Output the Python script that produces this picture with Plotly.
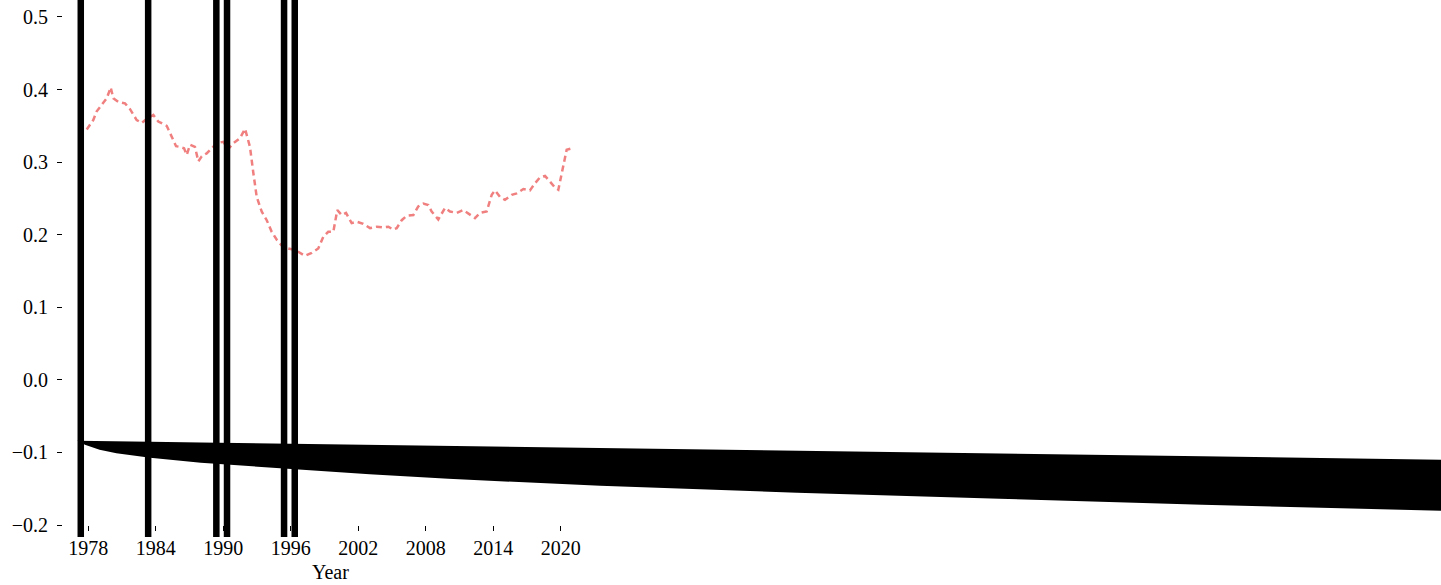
import plotly.graph_objects as go

# Dashed series (year, value)
years = [1977.86, 1978.44, 1978.75, 1979.19, 1979.64, 1979.99, 1980.22, 1980.67, 1981.26, 1981.71,
         1982.30, 1982.75, 1983.24, 1983.78, 1984.22, 1984.97, 1985.41, 1985.80, 1986.15, 1986.51,
         1986.75, 1987.04, 1987.48, 1987.78, 1988.08, 1988.52, 1988.97, 1989.41, 1990.00, 1990.44,
         1990.89, 1991.48, 1991.93, 1992.37, 1992.67, 1992.97, 1993.41, 1993.86, 1994.30, 1994.75,
         1995.19, 1995.78, 1996.37, 1996.82, 1997.26, 1997.86, 1998.44, 1998.89, 1999.33, 1999.78,
         2000.13, 2000.52, 2000.91, 2001.41, 2001.86, 2002.44, 2003.04, 2003.64, 2004.22, 2004.67,
         2005.11, 2005.41, 2005.86, 2006.30, 2006.89, 2007.33, 2007.78, 2008.22, 2008.52, 2009.11,
         2009.71, 2010.15, 2010.75, 2011.33, 2011.93, 2012.37, 2012.82, 2013.41, 2013.86, 2014.15,
         2014.60, 2015.04, 2015.64, 2016.08, 2016.67, 2017.26, 2017.71, 2018.15, 2018.60, 2019.04,
         2019.48, 2019.78, 2020.22, 2020.52, 2020.97]
values = [0.345, 0.358, 0.370, 0.379, 0.388, 0.403, 0.388, 0.383, 0.381, 0.373,
          0.358, 0.354, 0.360, 0.365, 0.356, 0.350, 0.335, 0.322, 0.321, 0.319,
          0.310, 0.324, 0.321, 0.301, 0.308, 0.312, 0.319, 0.326, 0.328, 0.318,
          0.326, 0.333, 0.346, 0.321, 0.285, 0.252, 0.232, 0.220, 0.204, 0.193,
          0.185, 0.181, 0.179, 0.175, 0.171, 0.175, 0.181, 0.197, 0.204, 0.204,
          0.234, 0.227, 0.230, 0.216, 0.218, 0.215, 0.209, 0.211, 0.210, 0.211,
          0.207, 0.209, 0.220, 0.226, 0.227, 0.239, 0.243, 0.241, 0.232, 0.221,
          0.237, 0.232, 0.230, 0.234, 0.227, 0.223, 0.230, 0.232, 0.255, 0.261,
          0.252, 0.248, 0.255, 0.257, 0.263, 0.261, 0.271, 0.279, 0.281, 0.273,
          0.265, 0.262, 0.294, 0.317, 0.319]

# Black wedge band
wedge_years = [1977.0, 1977.3, 1977.7, 1978.3, 1979.0, 1980.5, 1983.5, 1988.0, 1992.0, 1997.0,
               2003.0, 2010.0, 2023.5, 2041.0, 2059.0, 2077.0, 2099.0]
wedge_top = [-0.0840, -0.0841, -0.0842, -0.0843, -0.0844, -0.0847, -0.0854, -0.0863, -0.0872, -0.0883,
             -0.0896, -0.0911, -0.0940, -0.0978, -0.1016, -0.1054, -0.1101]
wedge_bottom = [-0.0840, -0.0858, -0.0893, -0.0927, -0.0962, -0.1010, -0.1074, -0.1143, -0.1185, -0.1240,
                -0.1300, -0.1364, -0.1460, -0.1556, -0.1639, -0.1722, -0.1806]

# Vertical black lines
vline_years = [1977.33, 1983.32, 1989.38, 1990.33, 1995.40, 1996.35]

x_ticks = [1978, 1984, 1990, 1996, 2002, 2008, 2014, 2020]
y_ticks = [-0.2, -0.1, 0.0, 0.1, 0.2, 0.3, 0.4, 0.5]

FONT = "Liberation Serif"

fig = go.Figure()

fig.add_trace(go.Scatter(
    x=wedge_years + wedge_years[::-1],
    y=wedge_top + wedge_bottom[::-1],
    fill="toself", fillcolor="black", mode="lines",
    line=dict(width=0, color="black"), hoverinfo="skip", showlegend=False,
))

fig.add_trace(go.Scatter(
    x=years, y=values, mode="lines",
    line=dict(color="#F08080", width=2.5, dash="6px,4px"),
    showlegend=False,
))

for xv in vline_years:
    fig.add_shape(type="line", xref="x", yref="paper", x0=xv, x1=xv, y0=-0.023, y1=1.05,
                  line=dict(color="black", width=6.5), layer="above")

fig.add_annotation(text="Year", xref="paper", yref="paper", x=(330 - 63) / 1378, y=-0.0895,
                   xanchor="center", yanchor="middle", showarrow=False,
                   font=dict(family=FONT, size=20, color="black"))

fig.update_layout(
    width=1441, height=585,
    margin=dict(l=63, r=0, t=0, b=60, autoexpand=False),
    paper_bgcolor="white", plot_bgcolor="white",
    font=dict(family=FONT, size=20, color="black"),
    xaxis=dict(range=[1975.75, 2098.24], tickmode="array", tickvals=x_ticks,
               ticktext=[str(v) for v in x_ticks],
               ticks="outside", ticklen=5, tickwidth=1, tickcolor="black",
               showgrid=False, zeroline=False, showline=False),
    yaxis=dict(range=[-0.2, 0.5234], tickmode="array", tickvals=y_ticks,
               ticktext=["\u22120.2", "\u22120.1", "0.0", "0.1", "0.2", "0.3", "0.4", "0.5"],
               ticks="outside", ticklen=5, tickwidth=1, tickcolor="black",
               ticklabelstandoff=5,
               showgrid=False, zeroline=False, showline=False),
)

fig.write_html("out.html")
